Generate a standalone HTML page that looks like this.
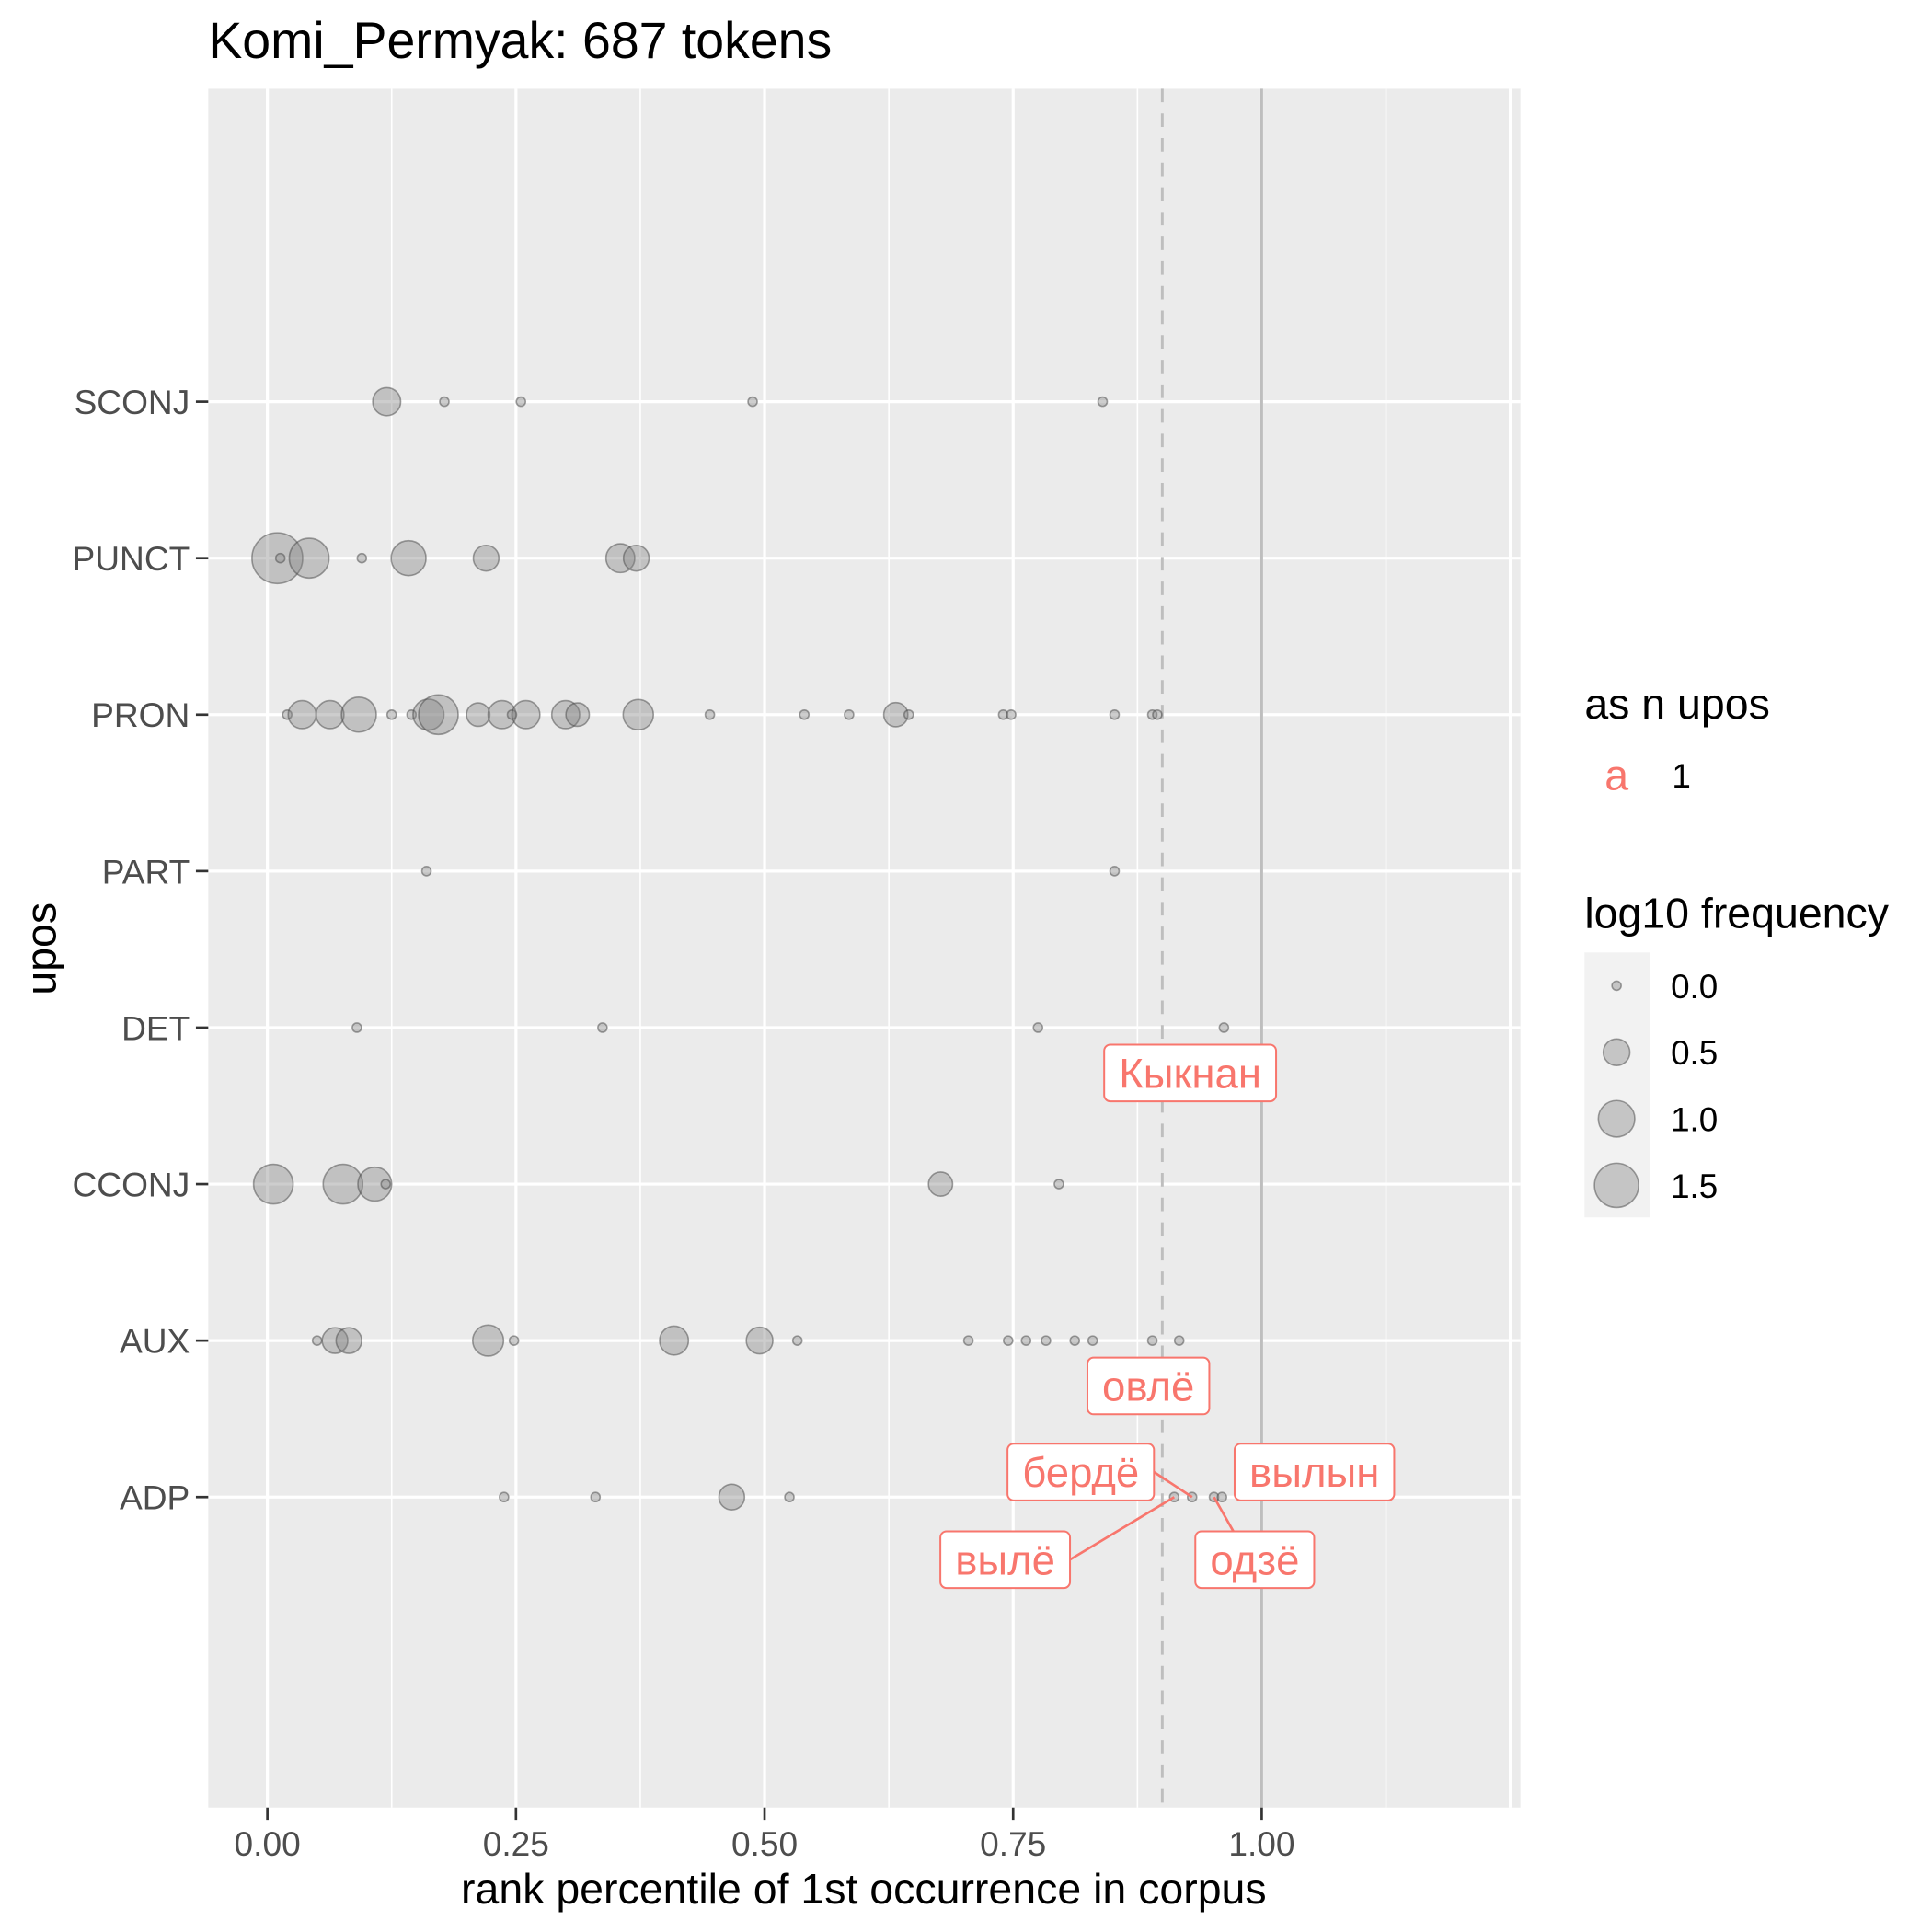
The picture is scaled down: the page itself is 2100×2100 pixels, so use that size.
<!DOCTYPE html>
<html><head><meta charset="utf-8"><style>
html,body{margin:0;padding:0;background:#fff;}
svg{display:block;font-family:"Liberation Sans",sans-serif;}
</style></head><body>
<svg id="chart" width="2100" height="2100" viewBox="0 0 1568 1568" xmlns="http://www.w3.org/2000/svg">
<rect x="0" y="0" width="1568" height="1568" fill="#fff"/>
<text x="169" y="47" font-size="41.4" fill="#000">Komi_Permyak: 687 tokens</text>
<rect x="169" y="72" width="1065" height="1395" fill="#ebebeb"/>
<g id="grid"></g>
<g id="refs"></g>
<g id="points"></g>
<g id="labels"></g>
<g id="axes"></g>
<text x="701" y="1545" font-size="34.7" text-anchor="middle" fill="#000">rank percentile of 1st occurrence in corpus</text>
<text transform="translate(45,770) rotate(-90)" font-size="34.7" text-anchor="middle" fill="#000">upos</text>
<g>
<text x="1286" y="583" font-size="34.7" fill="#000">as n upos</text>
<text x="1312" y="641" font-size="34.7" fill="#F8766D" text-anchor="middle">a</text>
<text x="1357" y="639" font-size="27.5" fill="#000">1</text>
<text x="1286" y="753" font-size="34.7" fill="#000">log10 frequency</text>
<rect x="1286" y="773" width="53" height="215" fill="#f2f2f2"/>
<g id="sizeLegend"></g>
</g>
</svg>
<script>
const categories = ["SCONJ","PUNCT","PRON","PART","DET","CCONJ","AUX","ADP"];
const xTicks = [0,0.25,0.5,0.75,1.0];
const xTickLabels = ["0.00","0.25","0.50","0.75","1.00"];
const sizeLegendValues = [0,0.5,1.0,1.5];
const sizeLegendLabels = ["0.0","0.5","1.0","1.5"];
const pointCat = ["SCONJ","SCONJ","SCONJ","SCONJ","SCONJ",
 "PUNCT","PUNCT","PUNCT","PUNCT","PUNCT","PUNCT","PUNCT","PUNCT",
 "PRON","PRON","PRON","PRON","PRON","PRON","PRON","PRON","PRON","PRON","PRON","PRON","PRON","PRON","PRON","PRON","PRON","PRON","PRON","PRON","PRON","PRON","PRON","PRON","PRON",
 "PART","PART","DET","DET","DET","DET",
 "CCONJ","CCONJ","CCONJ","CCONJ","CCONJ","CCONJ",
 "AUX","AUX","AUX","AUX","AUX","AUX","AUX","AUX","AUX","AUX","AUX","AUX","AUX","AUX","AUX","AUX",
 "ADP","ADP","ADP","ADP","ADP","ADP","ADP","ADP"];
const pointX = [0.12,0.178,0.255,0.488,0.84,
 0.01,0.042,0.013,0.095,0.142,0.22,0.355,0.371,
 0.02,0.035,0.063,0.092,0.125,0.145,0.162,0.172,0.212,0.236,0.246,0.26,0.3,0.312,0.373,0.445,0.54,0.585,0.632,0.645,0.74,0.748,0.852,0.89,0.895,
 0.16,0.852,0.09,0.337,0.775,0.962,
 0.006,0.076,0.108,0.119,0.677,0.796,
 0.05,0.068,0.082,0.222,0.248,0.409,0.495,0.533,0.705,0.745,0.763,0.783,0.812,0.83,0.89,0.917,
 0.238,0.33,0.467,0.525,0.912,0.93,0.952,0.96];
const pointFreq = [0.56,0,0,0,0,
 2.0,1.2,0,0,0.91,0.46,0.6,0.46,
 0,0.56,0.56,0.91,0,0,0.7,1.19,0.37,0.56,0,0.56,0.56,0.37,0.67,0,0,0,0.4,0,0,0,0,0,0,
 0,0,0,0,0,0,
 1.19,1.19,0.85,0,0.4,0,
 0,0.46,0.46,0.7,0,0.6,0.5,0,0,0,0,0,0,0,0,0,
 0,0,0.46,0,0,0,0,0];
const labelText = ["Кыкнан","овлё","бердё","вылын","вылё","одзё"];
const labelX = [0.928,0.886,0.818,1.053,0.742,0.993];
const labelCat = ["DET","AUX","ADP","ADP","ADP","ADP"];
const labelDy = [0.29,0.29,-0.16,-0.16,0.4,0.4];
const labelPointX = [null,null,0.93,null,0.912,0.952];

const NS="http://www.w3.org/2000/svg";
const X0=169,X1=1234,Y0=72,Y1=1467;
function xs(v){return 217+v*807;}
function ys(c){return 326+categories.indexOf(c)*127;}
function yn(c,d){return ys(c)+d*127;}
function rs(v){return Math.sqrt(14+205*v);}
function mk(tag,attrs,parent){const e=document.createElementNS(NS,tag);for(const k in attrs)e.setAttribute(k,attrs[k]);parent.appendChild(e);return e;}
const grid=document.getElementById('grid');
for(let v=0.125;v<1.3;v+=0.25){const l=mk('line',{x1:xs(v),x2:xs(v),y1:Y0,y2:Y1,stroke:'#fff','stroke-width':1.2},grid);}
for(const v of xTicks.concat([1.25])){const l=mk('line',{x1:xs(v),x2:xs(v),y1:Y0,y2:Y1,stroke:'#fff','stroke-width':2.4},grid);}
for(const c of categories){const l=mk('line',{x1:X0,x2:X1,y1:ys(c),y2:ys(c),stroke:'#fff','stroke-width':2.4},grid);}
const refs=document.getElementById('refs');
let r1=mk('line',{x1:xs(0.9),x2:xs(0.9),y1:Y0,y2:Y1,stroke:'#bebebe','stroke-width':2.2,'stroke-dasharray':'11,9'},refs);


let r2=mk('line',{x1:xs(1),x2:xs(1),y1:Y0,y2:Y1,stroke:'#bebebe','stroke-width':2.2},refs);


const pts=document.getElementById('points');
for(let i=0;i<pointX.length;i++){const c=mk('circle',{cx:xs(pointX[i]),cy:ys(pointCat[i]),r:rs(pointFreq[i]),fill:'rgba(130,130,130,0.4)',stroke:'rgba(70,70,70,0.5)','stroke-width':1.2},pts);}
const lab=document.getElementById('labels');
for(let i=0;i<labelText.length;i++){
 const cx=xs(labelX[i]),cy=yn(labelCat[i],labelDy[i]);
 const g=mk('g',{},lab);
 
 
 const r=mk('rect',{},g);
 
 
 const t=mk('text',{x:cx,y:cy+12,'font-size':34,'text-anchor':'middle',fill:'#F8766D'},g);t.textContent=labelText[i];
 
 
 const w=t.getComputedTextLength()+24,h=46;
 r.setAttribute('x',cx-w/2);r.setAttribute('y',cy-h/2);r.setAttribute('width',w);r.setAttribute('height',h);r.setAttribute('rx',5);r.setAttribute('fill','#fff');r.setAttribute('stroke','#F8766D');r.setAttribute('stroke-width',1.5);
 if(labelPointX[i]!==null){
  let x1,y1;
  if(labelDy[i]<0){x1=cx+w/2;y1=cy;}
  else if(labelPointX[i]>labelX[i]){x1=cx+w/2;y1=cy;}
  else {x1=cx-w*0.18;y1=cy-h/2;}
  const ln=document.createElementNS(NS,'line');
  ln.setAttribute('x1',x1);ln.setAttribute('y1',y1);ln.setAttribute('x2',xs(labelPointX[i]));ln.setAttribute('y2',ys(labelCat[i]));ln.setAttribute('stroke','#F8766D');ln.setAttribute('stroke-width',2);
  
  
  lab.insertBefore(ln,lab.firstChild);
 }
}
const ax=document.getElementById('axes');
for(let i=0;i<xTicks.length;i++){const x=xs(xTicks[i]);const l=mk('line',{x1:x,x2:x,y1:Y1,y2:Y1+10,stroke:'#333','stroke-width':2},ax);const t=mk('text',{x:x,y:Y1+39,'font-size':27.7,'text-anchor':'middle',fill:'#4d4d4d'},ax);t.textContent=xTickLabels[i];}
for(const c of categories){const y=ys(c);const l=mk('line',{x1:X0-10,x2:X0,y1:y,y2:y,stroke:'#333','stroke-width':2},ax);const t=mk('text',{x:X0-15,y:y+10,'font-size':27.7,'text-anchor':'end',fill:'#4d4d4d'},ax);t.textContent=c;}
const sl=document.getElementById('sizeLegend');
for(let i=0;i<sizeLegendValues.length;i++){const y=800+i*54;const c=mk('circle',{cx:1312,cy:y,r:rs(sizeLegendValues[i]),fill:'rgba(130,130,130,0.4)',stroke:'rgba(70,70,70,0.5)','stroke-width':1.2},sl);const t=mk('text',{x:1356,y:y+10,'font-size':27.5,fill:'#000'},sl);t.textContent=sizeLegendLabels[i];}
</script>
</body></html>
